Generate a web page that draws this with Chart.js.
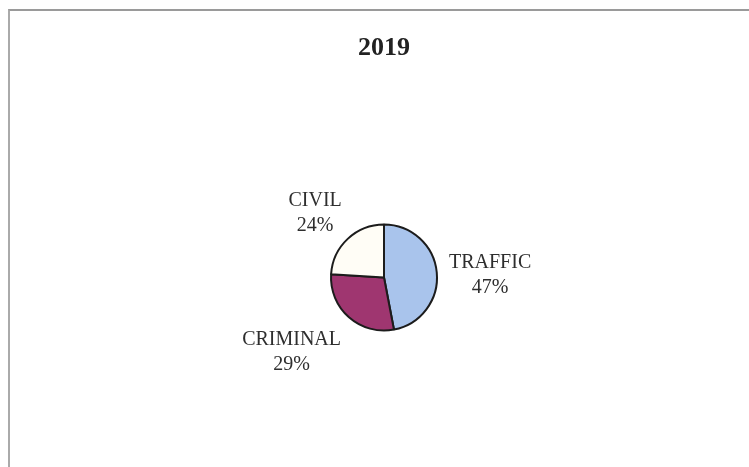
<!DOCTYPE html>
<html><head><meta charset="utf-8">
<script src="https://cdn.jsdelivr.net/npm/chart.js@4/dist/chart.umd.min.js"></script>
<style>
html,body{margin:0;padding:0;background:#fff;}
#wrap{position:relative;width:749px;height:467px;}
#frame{position:absolute;left:8px;top:9px;right:0;bottom:0;border-top:2px solid #9a9a9a;border-left:2px solid #aaa;pointer-events:none;}
canvas{position:absolute;left:0;top:0;}
</style></head>
<body>
<div id="wrap"><canvas id="c" width="749" height="467"></canvas><div id="frame"></div></div>
<script>
const title = '2019';
const categories = ['TRAFFIC', 'CRIMINAL', 'CIVIL'];
const percents = [47, 29, 24];
const colors = ['#a9c4ec', '#9f3670', '#fffdf6'];

const labelPlugin = {
  id: 'outLabels',
  afterDraw(chart, args, opts) {
    const ctx = chart.ctx;
    const meta = chart.getDatasetMeta(0);
    ctx.save();
    ctx.fillStyle = '#2e2e2e';
    ctx.font = '20px "Liberation Serif", "Times New Roman", serif';
    ctx.textAlign = 'center';
    ctx.textBaseline = 'alphabetic';
    const lh = 25;
    meta.data.forEach((arc, i) => {
      const p = arc.getProps(['x','y','startAngle','endAngle','outerRadius'], true);
      const mid = (p.startAngle + p.endAngle) / 2;
      const dx = Math.cos(mid), dy = Math.sin(mid);
      const l1 = categories[i], l2 = percents[i] + '%';
      const w = Math.max(ctx.measureText(l1).width, ctx.measureText(l2).width);
      const h = 38;
      const target = p.outerRadius + opts.gap;
      let lo = 0, hi = 400;
      for (let k = 0; k < 40; k++) {
        const t = (lo + hi) / 2;
        const cx = t * dx, cy = t * dy;
        const nx = Math.max(cx - w/2, Math.min(0, cx + w/2));
        const ny = Math.max(cy - h/2, Math.min(0, cy + h/2));
        const d = Math.hypot(nx, ny);
        if (d < target) lo = t; else hi = t;
      }
      const nd = opts.nudge[i] || {x:0, y:0};
      const cx = p.x + hi * dx + nd.x, cy = p.y + hi * dy + nd.y;
      ctx.fillText(l1, cx, cy - h/2 + 15);
      ctx.fillText(l2, cx, cy - h/2 + 15 + lh);
    });
    ctx.font = 'bold 26px "Liberation Serif", "Times New Roman", serif';
    ctx.fillStyle = '#222';
    ctx.textBaseline = 'middle';
    ctx.fillText(title, meta.data[0].x, 48);
    ctx.restore();
  }
};

new Chart(document.getElementById('c'), {
  type: 'pie',
  data: {
    labels: categories,
    datasets: [{
      data: percents,
      backgroundColor: colors,
      borderColor: '#1c1c1c',
      borderWidth: 2
    }]
  },
  options: {
    responsive: false,
    animation: false,
    layout: { padding: { top: 223, bottom: 135, left: 330, right: 311 } },
    plugins: {
      legend: { display: false },
      tooltip: { enabled: false },
      title: { display: false },
      outLabels: { gap: 10, nudge: [{x: 2, y: 4}, {x: -23, y: -7}, {x: -4, y: 2}] }
    }
  },
  plugins: [labelPlugin]
});
</script>
</body></html>
